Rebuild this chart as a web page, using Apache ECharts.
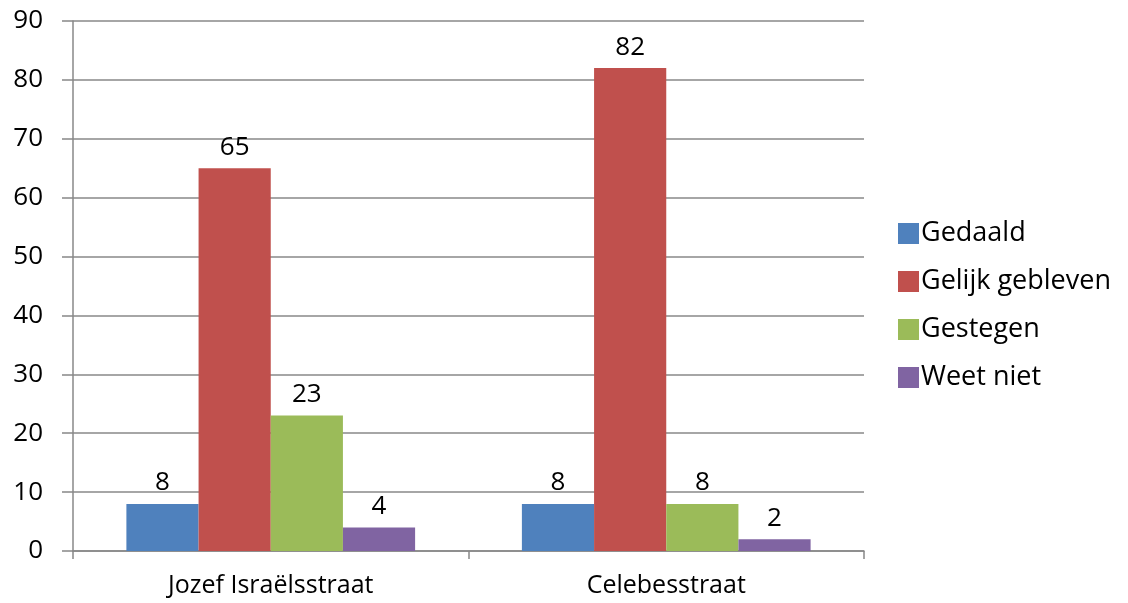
<!DOCTYPE html>
<html>
<head>
<meta charset="utf-8">
<script src="https://cdn.jsdelivr.net/npm/echarts@6/dist/echarts.min.js"></script>
<style>
  html, body { margin: 0; padding: 0; background: #fff; }
  #chart { width: 1128px; height: 603px; }
</style>
</head>
<body>
<div id="chart"></div>
<script>
// data
const streets = ['Jozef Israëlsstraat', 'Celebesstraat'];
const seriesNames = ['Gedaald', 'Gelijk gebleven', 'Gestegen', 'Weet niet'];
const gedaald = [8, 8];
const gelijk = [65, 82];
const gestegen = [23, 8];
const weetNiet = [4, 2];
const colors = ['#4F81BD', '#C0504D', '#9BBB59', '#8064A2'];

const fontFam = '"Open Sans", "Noto Sans", sans-serif';
const lineGrey = '#888888';

var myChart = echarts.init(document.getElementById('chart'));

const values = [gedaald, gelijk, gestegen, weetNiet];
let series = [];
for (let i = 0; i < seriesNames.length; i++) {
  series.push({
    name: seriesNames[i],
    type: 'bar',
    data: values[i],
    barGap: '0%',
    barCategoryGap: '27%',
    itemStyle: { color: colors[i] },
    label: {
      show: true,
      position: 'top',
      distance: 8,
      color: '#000',
      fontSize: 26,
      fontFamily: fontFam
    }
  });
}

var option = {
  animation: false,
  color: colors,
  grid: { left: 73, right: 264, top: 21, bottom: 52 },
  legend: {
    orient: 'vertical',
    left: 893,
    top: 215,
    itemWidth: 21,
    itemHeight: 21,
    itemGap: 21,
    icon: 'rect',
    textStyle: { fontSize: 27, fontFamily: fontFam, color: '#000', padding: [0, 0, 0, -3] },
    data: seriesNames
  },
  xAxis: {
    type: 'category',
    data: streets,
    axisLine: { lineStyle: { color: lineGrey, width: 1.5 } },
    axisTick: { show: true, length: 8, alignWithLabel: false, lineStyle: { color: lineGrey, width: 1.5 } },
    axisLabel: { fontSize: 25, fontFamily: fontFam, color: '#000', margin: 22 }
  },
  yAxis: {
    type: 'value',
    min: 0,
    max: 90,
    interval: 10,
    axisLine: { show: true, lineStyle: { color: lineGrey, width: 1.5 } },
    axisTick: { show: true, length: 11, inside: false, lineStyle: { color: lineGrey, width: 1.5 } },
    splitLine: { lineStyle: { color: lineGrey, width: 1.5 } },
    axisLabel: { fontSize: 26, fontFamily: fontFam, color: '#000', margin: 30 }
  },
  series: series
};

myChart.setOption(option);
</script>
</body>
</html>
